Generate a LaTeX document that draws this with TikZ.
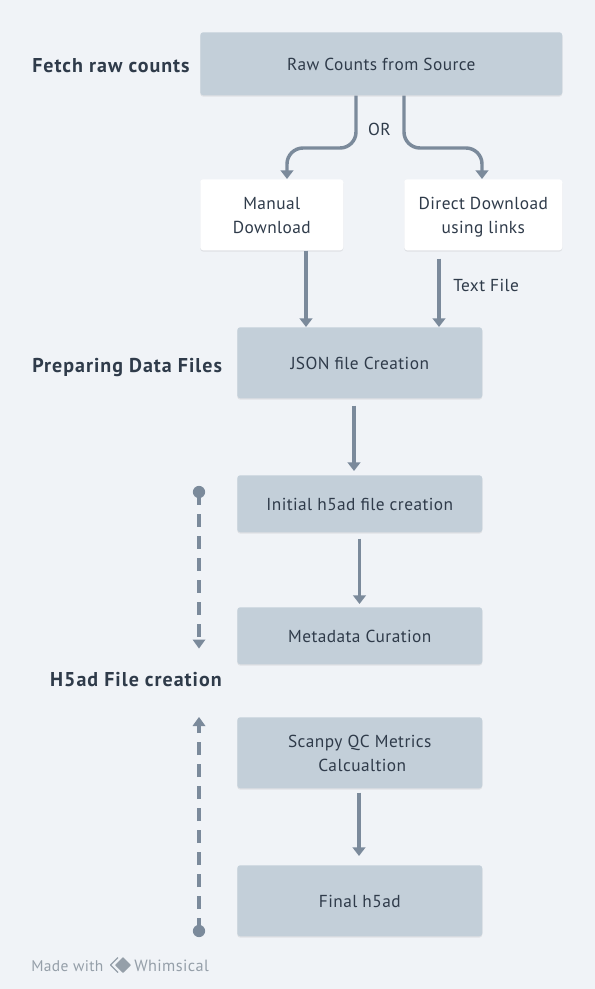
\documentclass[tikz,border=0pt]{standalone}
\usepackage{fontspec}
\setmainfont[LetterSpace=2.5]{PT Sans}
\newfontfamily\titlefont[LetterSpace=5]{PT Sans}
\usetikzlibrary{arrows.meta,shadows,calc}
\definecolor{bgc}{HTML}{F0F3F7}
\definecolor{boxc}{HTML}{C3CFD9}
\definecolor{linec}{HTML}{7B8A9B}
\definecolor{txt}{HTML}{2F3B4A}
\definecolor{markc}{HTML}{959FA9}
\tikzset{
  x=0.75pt,y=-0.75pt,
  base/.style={rounded corners=2.2pt,inner sep=0pt,
    drop shadow={shadow xshift=0pt,shadow yshift=-1pt,opacity=.12,fill=black!60}},
  gray box/.style={base,fill=boxc},
  white box/.style={base,fill=white},
  boxtext/.style={inner sep=0pt,align=center,text=txt,font=\fontsize{13}{18}\selectfont,yshift=-0.75pt},
  title/.style={font=\titlefont\fontsize{15}{16}\selectfont\bfseries,text=txt,inner sep=0pt},
  small/.style={font=\fontsize{13}{16}\selectfont,text=txt,inner sep=0pt},
  conn/.style={draw=linec,line width=2.6pt,-{Triangle[length=6.5pt,width=9.5pt]}},
  thinconn/.style={draw=linec,line width=2.4pt,-{Triangle[length=6.5pt,width=9.5pt]}},
  dashconn/.style={draw=linec,line width=2.6pt,dash pattern=on 10pt off 6.5pt},
}
\newcommand{\bx}[7]{\node[#1,minimum width=#4*0.75pt-#2*0.75pt,minimum height=#5*0.75pt-#3*0.75pt,anchor=north west] (#6) at (#2,#3) {};
\node[boxtext] (#6text) at (#6.center) {#7};}
\begin{document}
\begin{tikzpicture}
\useasboundingbox[fill=bgc] (0,0) rectangle (595,989);
\bx{gray box}{200}{32}{562}{95}{raw}{Raw Counts from Source}
\bx{white box}{200}{179}{343}{250}{manual}{Manual\\Download}
\bx{white box}{404}{179}{562}{250}{direct}{Direct Download\\\smash{using links}}
\bx{gray box}{237}{327}{482}{398}{json}{JSON file Creation}
\bx{gray box}{237}{475}{482}{532}{initial}{Initial h5ad file creation}
\bx{gray box}{237}{607}{482}{664}{meta}{Metadata Curation}
\bx{gray box}{237}{717}{482}{788}{scanpy}{Scanpy QC Metrics\\\ Calcualtion}
\bx{gray box}{237}{865}{482}{936}{final}{Final h5ad}
\node[title,anchor=base west] (t1) at (32,72) {Fetch raw counts};
\node[title,anchor=base west] (t2) at (32,372) {Preparing Data Files};
\node[title,anchor=base east] (t3) at (222,686) {H5ad File creation};
\node[small] (or) at (379.5,129) {OR};
\node[small,anchor=west] (tf) at (453,285) {Text File};
\node[font=\fontsize{11.6}{14}\selectfont,text=markc,inner sep=0pt,anchor=west] (made) at (31,966) {Made with};
\node[font=\fontsize{12.2}{14}\selectfont,text=markc,inner sep=0pt,anchor=west] (whim) at (134,966) {Whimsical};
\draw[markc,line width=0.9pt,line join=round] (118,957.5) -- (110.5,965) -- (118,972.5);
\fill[markc,rounded corners=0.5pt] (123,957) -- (131,965) -- (123,973) -- (115,965) -- cycle;
\draw[conn,rounded corners=12pt] ($(raw.south west)+(156,0)$) |- (320,148) -| ($(manual.north west)+(87,0)$);
\draw[conn,rounded corners=12pt] ($(raw.south west)+(204,0)$) |- (440,148) -| ($(direct.north west)+(78,0)$);
\draw[conn] ($(manual.south west)+(106,0)$) -- ($(json.north west)+(69,0)$);
\draw[thinconn] ($(direct.south west)+(35,8)$) -- ($(json.north west)+(202,0)$);
\draw[conn] ($(json.south west)+(117,7)$) -- ($(initial.north west)+(117,-4)$);
\draw[thinconn] ($(initial.south west)+(122.5,6)$) -- ($(meta.north west)+(122.5,-3)$);
\draw[thinconn] ($(scanpy.south west)+(122,4)$) -- ($(final.north west)+(122,-9)$);
\coordinate (d1) at (199,492);
\coordinate (d2) at (199,640);
\coordinate (d3) at (199,931);
\coordinate (d4) at (199,726);
\draw[dashconn] (d1) -- (d2);
\draw[dashconn] (d3) -- (d4);
\fill[linec] (d1) circle (4.6pt) (d3) circle (4.6pt);
\fill[linec] (199,648.5) ++(-6.5,-9) -- ++(13,0) -- ++(-6.5,9) -- cycle;
\fill[linec] (199,717) ++(-6.5,9) -- ++(13,0) -- ++(-6.5,-9) -- cycle;
\end{tikzpicture}
\end{document}
